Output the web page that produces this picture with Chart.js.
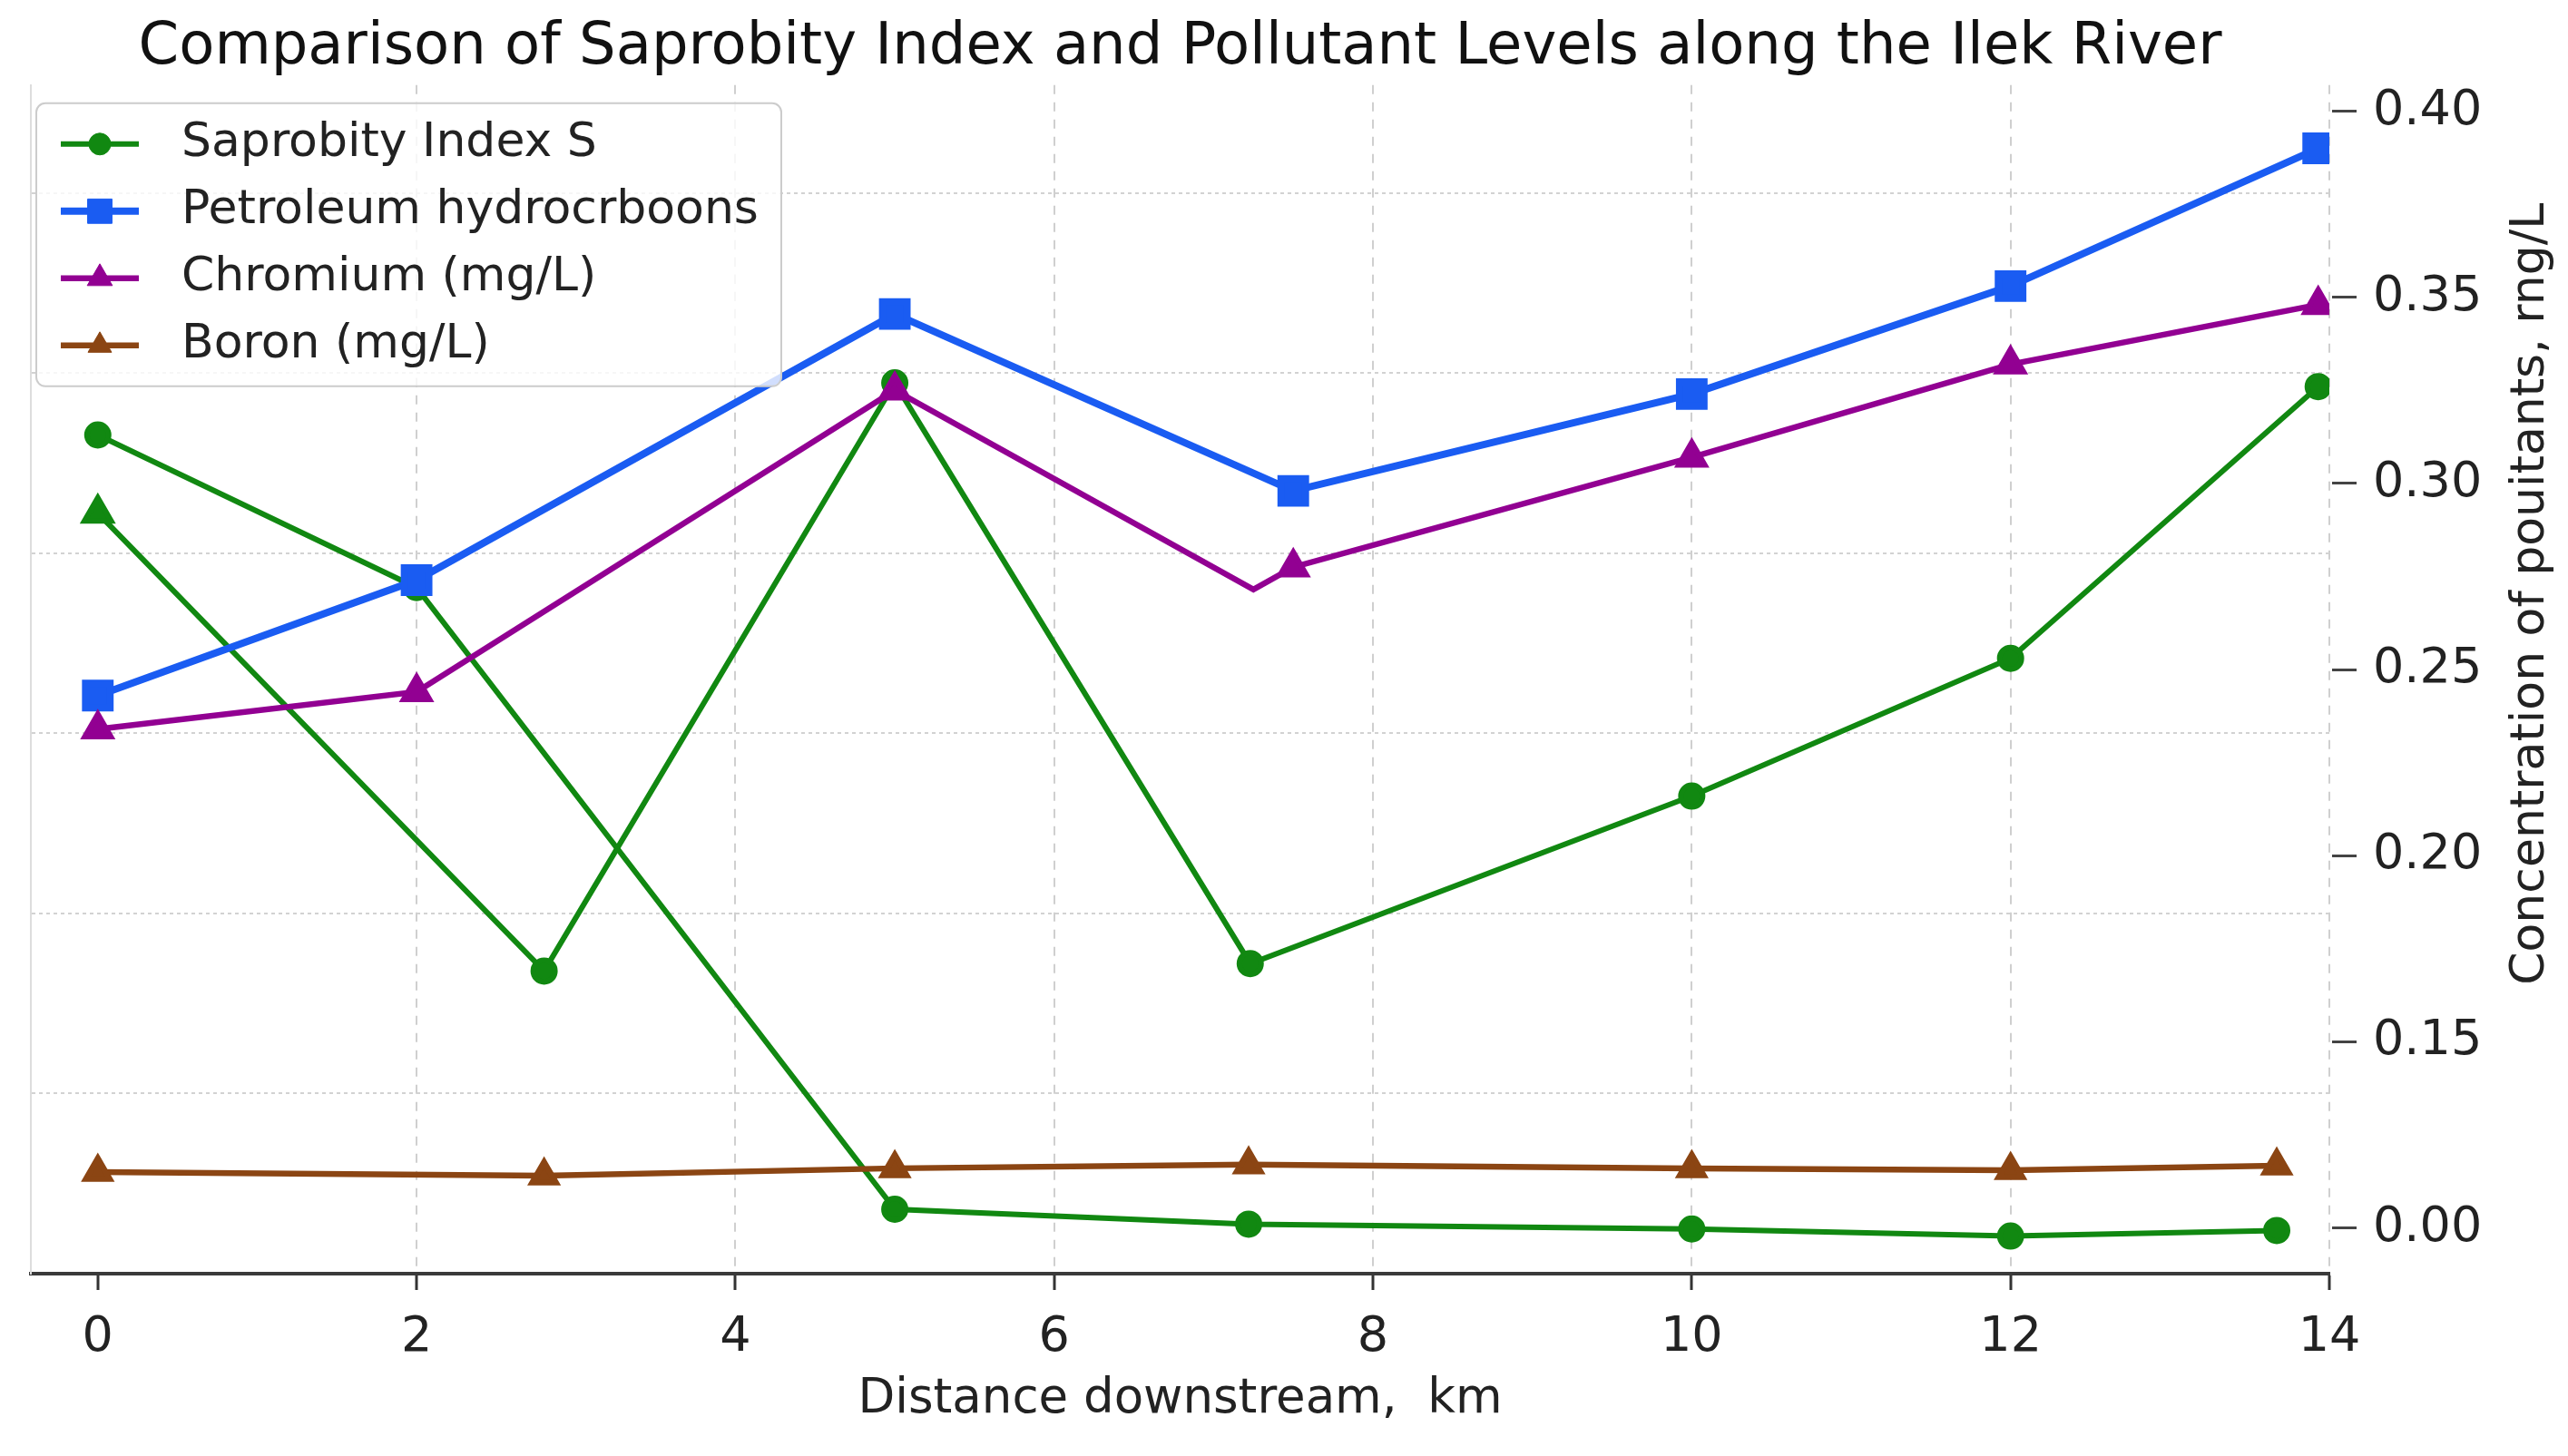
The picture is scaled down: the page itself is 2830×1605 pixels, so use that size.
<!DOCTYPE html>
<html>
<head>
<meta charset="utf-8">
<title>Saprobity Index and Pollutant Levels along the Ilek River</title>
<script src="https://cdn.jsdelivr.net/npm/chart.js@4.4.0/dist/chart.umd.min.js"></script>
<style>
  html, body { margin: 0; padding: 0; background: #fff; }
  #wrap { position: relative; width: 2830px; height: 1605px; }
</style>
</head>
<body>
<div id="wrap"><canvas id="riverChart"></canvas></div>
<script>
// x axis, distance downstream in km
const xTicks = [0, 2, 4, 6, 8, 10, 12, 14];

// right axis: where the ticks sit and what is printed there
// (the source prints "0.00" at the spot where 0.10 would be)
const yTickPositions = [0.10, 0.15, 0.20, 0.25, 0.30, 0.35, 0.40];
const yTickLabels = ['0.00', '0.15', '0.20', '0.25', '0.30', '0.35', '0.40'];

// hidden left axis, only its dotted grid shows
const gridTicks = [0.5, 1.0, 1.5, 2.0, 2.5, 3.0];

// Saprobity index comes as two separate green runs in the source
const saprobityDistA = [0, 2, 5, 7.22, 10, 12, 13.67];
const saprobityA = [0.313, 0.272, 0.105, 0.101, 0.0997, 0.0978, 0.0993];
const saprobityDistB = [0, 2.8, 5, 7.23, 10, 12, 13.93];
const saprobityB = [0.292, 0.169, 0.327, 0.171, 0.216, 0.253, 0.326];

const petroleumDist = [0, 2, 5, 7.5, 10, 12, 13.93];
const petroleum = [0.243, 0.274, 0.3455, 0.298, 0.324, 0.353, 0.390];

const chromiumDist = [0, 2, 5, 7.25, 7.5, 10, 12, 13.93];
const chromium = [0.234, 0.244, 0.325, 0.2715, 0.2775, 0.307, 0.332, 0.348];

const boronDist = [0, 2.8, 5, 7.22, 10, 12, 13.67];
const boron = [0.115, 0.114, 0.116, 0.117, 0.116, 0.1155, 0.1167];

const titleText = 'Comparison of Saprobity Index and Pollutant Levels along the Ilek River';
const xTitle = 'Distance downstream,  km';
const yTitle = 'Concentration of pouitants, rng/L';

function toPoints(xs, ys) {
    return xs.map((x, i) => ({ x: x, y: ys[i] }));
}

Chart.defaults.font.family = '"DejaVu Sans", "Noto Sans", sans-serif';
Chart.defaults.color = '#222';

// legend box drawn inside the plot, matplotlib style (line + marker)
const insideLegend = {
    id: 'insideLegend',
    afterDatasetsDraw(chart) {
        const ctx = chart.ctx;
        const area = chart.chartArea;
        const x0 = area.left + 6, y0 = area.top + 20, w = 821, h = 312;
        ctx.save();
        ctx.beginPath();
        ctx.roundRect(x0, y0, w, h, 10);
        ctx.fillStyle = 'rgba(255,255,255,0.8)';
        ctx.fill();
        ctx.lineWidth = 2;
        ctx.strokeStyle = '#cccccc';
        ctx.stroke();

        const entries = chart.data.datasets.filter(ds => ds.label);
        entries.forEach((ds, i) => {
            const cy = y0 + 45 + i * 74;
            ctx.beginPath();
            ctx.moveTo(x0 + 27, cy);
            ctx.lineTo(x0 + 113, cy);
            ctx.lineWidth = ds.borderWidth;
            ctx.strokeStyle = ds.borderColor;
            ctx.stroke();
            ctx.fillStyle = ds.borderColor;
            ctx.lineWidth = 1;
            Chart.helpers.drawPoint(ctx, {
                pointStyle: ds.pointStyle,
                radius: ds.legendRadius,
                rotation: 0,
                borderWidth: 1
            }, x0 + 70, cy);
            ctx.fillStyle = '#222';
            ctx.font = '52px "DejaVu Sans"';
            ctx.textAlign = 'left';
            ctx.textBaseline = 'middle';
            ctx.fillText(ds.label, x0 + 160, cy);
        });
        ctx.restore();
    }
};

// right axis title reads bottom to top, as in the source
const rightTitle = {
    id: 'rightTitle',
    afterDraw(chart) {
        const ctx = chart.ctx;
        const area = chart.chartArea;
        ctx.save();
        ctx.translate(area.right + 222, area.top + 561);
        ctx.rotate(-Math.PI / 2);
        ctx.font = '52px "DejaVu Sans"';
        ctx.fillStyle = '#222';
        ctx.textAlign = 'center';
        ctx.textBaseline = 'middle';
        ctx.fillText(yTitle, 0, 0);
        ctx.restore();
    }
};

const green = '#118811';
const blue = '#1a5cf2';
const purple = '#920092';
const brown = '#8b4513';

new Chart(document.getElementById('riverChart'), {
    type: 'line',
    data: {
        datasets: [{
            label: 'Saprobity Index S',
            data: toPoints(saprobityDistA, saprobityA),
            borderColor: green,
            backgroundColor: green,
            pointBorderColor: green,
            borderWidth: 6,
            pointStyle: 'circle',
            pointRadius: 12,
            legendRadius: 12,
            yAxisID: 'y',
            order: 5
        }, {
            label: '',
            data: toPoints(saprobityDistB, saprobityB),
            borderColor: green,
            backgroundColor: green,
            pointBorderColor: green,
            borderWidth: 6,
            pointStyle: ['triangle', 'circle', 'circle', 'circle', 'circle', 'circle', 'circle'],
            pointRadius: [17, 12, 12, 12, 12, 12, 12],
            yAxisID: 'y',
            order: 4
        }, {
            label: 'Petroleum hydrocrboons',
            data: toPoints(petroleumDist, petroleum),
            borderColor: blue,
            backgroundColor: blue,
            pointBorderColor: blue,
            borderWidth: 8,
            pointStyle: 'rect',
            pointRadius: 19,
            legendRadius: 19,
            yAxisID: 'y',
            order: 3
        }, {
            label: 'Chromium (mg/L)',
            data: toPoints(chromiumDist, chromium),
            borderColor: purple,
            backgroundColor: purple,
            pointBorderColor: purple,
            borderWidth: 6.5,
            pointStyle: 'triangle',
            pointRadius: [16, 16, 16, 0, 16, 16, 16, 16],
            legendRadius: 16,
            yAxisID: 'y',
            order: 2
        }, {
            label: 'Boron (mg/L)',
            data: toPoints(boronDist, boron),
            borderColor: brown,
            backgroundColor: brown,
            pointBorderColor: brown,
            borderWidth: 6.5,
            pointStyle: 'triangle',
            pointRadius: 15,
            legendRadius: 15,
            yAxisID: 'y',
            order: 1
        }]
    },
    options: {
        responsive: true,
        maintainAspectRatio: false,
        animation: false,
        devicePixelRatio: 1,
        events: [],
        elements: {
            line: { tension: 0 },
            point: { borderWidth: 1 }
        },
        layout: {
            padding: { left: 34, right: 63, top: 0, bottom: 0 }
        },
        scales: {
            x: {
                type: 'linear',
                position: 'bottom',
                min: -0.42,
                max: 14,
                afterBuildTicks: s => { s.ticks = xTicks.map(v => ({ value: v })); },
                afterFit: s => { s.height = 201; },
                grid: {
                    color: ctx => (ctx.tick && ctx.tick.value === 0) ? 'rgba(0,0,0,0)' : '#cfcfcf',
                    lineWidth: 2,
                    tickLength: 18,
                    tickColor: '#333',
                    tickWidth: 3,
                    tickBorderDash: []
                },
                border: { display: true, color: '#3a3a3a', width: 4, dash: [10, 9] },
                ticks: { color: '#222', font: { size: 54 }, padding: 21 },
                title: {
                    display: true,
                    text: xTitle,
                    color: '#222',
                    font: { size: 53 },
                    padding: { top: 0, bottom: 30 }
                }
            },
            yGrid: {
                type: 'linear',
                position: 'left',
                min: 0,
                max: 3.3,
                afterBuildTicks: s => { s.ticks = gridTicks.map(v => ({ value: v })); },
                afterFit: s => { s.width = 0; },
                ticks: { display: false },
                grid: { color: '#d2d2d2', lineWidth: 2, drawTicks: false },
                border: { display: true, color: '#dddddd', width: 2, dash: [4, 4] }
            },
            y: {
                type: 'linear',
                position: 'right',
                min: 0.0877,
                max: 0.407,
                afterBuildTicks: s => { s.ticks = yTickPositions.map(v => ({ value: v })); },
                afterFit: s => { s.width = 200; },
                ticks: {
                    color: '#222',
                    font: { size: 54 },
                    padding: 18,
                    callback: (v, i) => yTickLabels[i]
                },
                grid: {
                    drawOnChartArea: false,
                    tickLength: 30,
                    tickColor: '#444',
                    tickWidth: 3,
                    tickBorderDash: [0, 3, 27, 100]
                },
                border: { display: false }
            }
        },
        plugins: {
            legend: { display: false },
            tooltip: { enabled: false },
            title: {
                display: true,
                text: titleText,
                fullSize: false,
                color: '#111',
                font: { size: 64, weight: 'normal' },
                padding: { top: 15, bottom: 2 }
            }
        }
    },
    plugins: [insideLegend, rightTitle]
});
</script>
</body>
</html>
